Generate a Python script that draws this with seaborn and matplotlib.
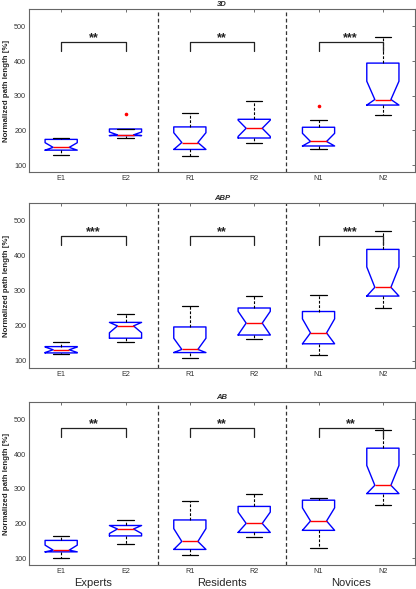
import numpy as np
import pandas as pd
import matplotlib

matplotlib.use("Agg")
import matplotlib.pyplot as plt
import seaborn as sns

# groups on the x axis
categories = ["E1", "E2", "R1", "R2", "N1", "N2"]
panels = ["3D", "ABP", "AB"]
group_names = ["Experts", "Residents", "Novices"]

# five-number summaries, one row per panel
low = [
    [129, 178, 125, 163, 146, 244],
    [120, 153, 108, 162, 118, 252],
    [101, 142, 108, 162, 128, 253],
]
q1 = [
    [143, 185, 145, 178, 155, 273],
    [123, 165, 124, 174, 149, 285],
    [118, 164, 125, 174, 180, 286],
]
median = [
    [151, 187, 165, 206, 168, 289],
    [132, 200, 133, 208, 180, 310],
    [123, 184, 148, 200, 207, 310],
]
q3 = [
    [174, 204, 210, 232, 209, 394],
    [141, 210, 197, 251, 241, 418],
    [151, 194, 210, 249, 267, 417],
]
high = [
    [177, 204, 250, 286, 231, 469],
    [153, 233, 258, 285, 287, 470],
    [163, 209, 265, 285, 272, 468],
]

# outliers (panel index, group, value)
outlier_panel = [0, 0]
outlier_group = ["E2", "N1"]
outlier_value = [246, 270]

# significance brackets between the two groups of each block
stars = [
    ["**", "**", "***"],
    ["***", "**", "***"],
    ["**", "**", "**"],
]
bracket_y = [455, 456, 476]

FONT = "Liberation Sans"


def summary_sample(lo, a, m, b, hi):
    # 13 values whose quartiles reproduce the summary exactly
    return [lo] * 2 + [a] * 2 + [m] * 5 + [b] * 2 + [hi] * 2


sns.set_style("white")
plt.rcParams["font.family"] = [FONT, "DejaVu Sans"]

fig = plt.figure(figsize=(4.16, 5.89), dpi=100)
axes_pos = [
    [0.0697, 0.708, 0.928, 0.2767],
    [0.0697, 0.3752, 0.928, 0.280],
    [0.0697, 0.0407, 0.928, 0.2767],
]

for p, name in enumerate(panels):
    ax = fig.add_axes(axes_pos[p])

    rows = []
    for g, cat in enumerate(categories):
        for v in summary_sample(low[p][g], q1[p][g], median[p][g], q3[p][g], high[p][g]):
            rows.append({"group": cat, "value": v})
    df = pd.DataFrame(rows)

    sns.boxplot(
        data=df,
        x="group",
        y="value",
        order=categories,
        width=0.5,
        fill=False,
        color="blue",
        whis=(0, 100),
        notch=True,
        linewidth=1.0,
        boxprops={"color": "blue", "linewidth": 1.0},
        medianprops={"color": "red", "linewidth": 1.0},
        whiskerprops={"color": "black", "linestyle": (0, (2.5, 1.5)), "linewidth": 0.8},
        capprops={"color": "black", "linewidth": 0.9},
        ax=ax,
    )

    # keep the notches inside the box, as in the original figure
    for line in ax.lines:
        y = np.asarray(line.get_ydata(), dtype=float)
        if len(y) == 11:
            lo_b, hi_b = min(y[0], y[5]), max(y[0], y[5])
            line.set_ydata(np.clip(y, lo_b, hi_b))

    # outliers
    out_g = [g for pi, g in zip(outlier_panel, outlier_group) if pi == p]
    out_v = [v for pi, v in zip(outlier_panel, outlier_value) if pi == p]
    if out_v:
        sns.stripplot(
            x=out_g, y=out_v, order=categories, jitter=False,
            color="red", size=2.6, linewidth=0, ax=ax,
        )

    # block separators
    for xs in [1.5, 3.5]:
        ax.axvline(xs, color="#333333", linestyle=(0, (3, 2)), linewidth=0.9)

    # brackets and stars
    for b in range(3):
        x0, x1 = 2 * b, 2 * b + 1
        yb = bracket_y[p]
        ax.plot([x0, x0, x1, x1], [yb - 26, yb, yb, yb - 26],
                color="#222222", linewidth=0.9)
        ax.text((x0 + x1) / 2, yb + 11, stars[p][b], ha="center", va="center",
                fontsize=9, fontweight="bold", color="#222222")

    ax.set_xlim(-0.5, 5.5)
    ax.set_ylim(80, 550)
    ax.set_yticks([100, 200, 300, 400, 500])
    ax.set_xticks(range(len(categories)))
    ax.set_xticklabels(categories)
    ax.set_xlabel("")
    ax.set_ylabel("Normalized path length [%]", fontsize=5.7, fontweight="bold")
    ax.yaxis.set_label_coords(-0.048, 0.5)
    ax.set_title(name, fontsize=5.5, fontweight="bold", fontstyle="italic", pad=2.5)

    ax.tick_params(direction="in", top=True, right=True, length=2.5, width=0.6,
                   labelsize=5.2, colors="#555555", labelcolor="#333333", pad=2)
    for sp in ax.spines.values():
        sp.set_visible(True)
        sp.set_color("#666666")
        sp.set_linewidth(0.8)

    if p == len(panels) - 1:
        for b, gname in enumerate(group_names):
            ax.text(2 * b + 0.5, -0.11, gname, transform=ax.get_xaxis_transform(),
                    ha="center", va="center", fontsize=8)

fig.savefig("out.png", dpi=100)
